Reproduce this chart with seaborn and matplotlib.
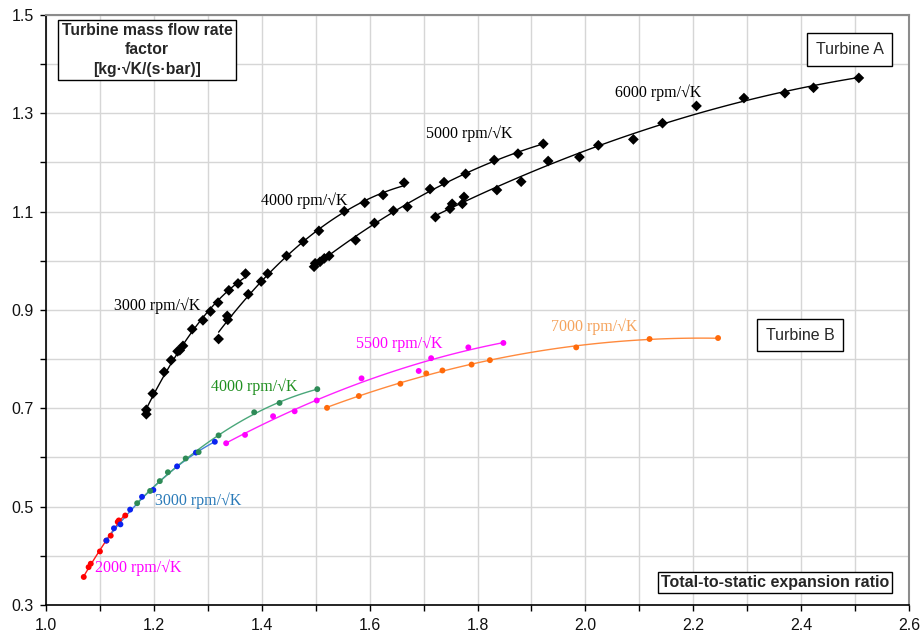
import numpy as np
import pandas as pd
import matplotlib
matplotlib.use("Agg")
import matplotlib.pyplot as plt
import seaborn as sns

# ---- Turbine A (black diamonds) : expansion ratio / mass flow factor ----
a3000_er = [1.186, 1.186, 1.198, 1.219, 1.232, 1.244, 1.248, 1.254, 1.271, 1.291, 1.305, 1.319, 1.339, 1.356, 1.370]
a3000_mf = [0.688, 0.697, 0.730, 0.774, 0.798, 0.816, 0.818, 0.827, 0.861, 0.879, 0.897, 0.915, 0.940, 0.954, 0.974]

a4000_er = [1.320, 1.336, 1.337, 1.375, 1.399, 1.411, 1.446, 1.477, 1.506, 1.553, 1.591, 1.625, 1.664]
a4000_mf = [0.841, 0.888, 0.880, 0.932, 0.958, 0.974, 1.010, 1.039, 1.061, 1.101, 1.118, 1.134, 1.159]

a5000_er = [1.497, 1.499, 1.508, 1.516, 1.525, 1.574, 1.609, 1.644, 1.670, 1.712, 1.738, 1.778, 1.831, 1.875, 1.922]
a5000_mf = [0.988, 0.995, 0.998, 1.005, 1.010, 1.042, 1.077, 1.102, 1.110, 1.146, 1.160, 1.177, 1.205, 1.218, 1.238]

a6000_er = [1.722, 1.749, 1.753, 1.772, 1.775, 1.836, 1.881, 1.931, 1.989, 2.024, 2.089, 2.143, 2.206, 2.294, 2.370, 2.423, 2.507]
a6000_mf = [1.089, 1.106, 1.116, 1.116, 1.130, 1.144, 1.161, 1.203, 1.211, 1.235, 1.247, 1.280, 1.315, 1.331, 1.341, 1.352, 1.372]

# ---- Turbine B (coloured dots) ----
b2000_er = [1.070, 1.079, 1.083, 1.100, 1.112, 1.120, 1.133, 1.135, 1.147]
b2000_mf = [0.357, 0.377, 0.384, 0.409, 0.431, 0.441, 0.469, 0.472, 0.482]

b3000_er = [1.112, 1.126, 1.138, 1.156, 1.178, 1.199, 1.243, 1.278, 1.313]
b3000_mf = [0.431, 0.456, 0.464, 0.494, 0.520, 0.534, 0.582, 0.610, 0.632]

b4000_er = [1.169, 1.193, 1.211, 1.226, 1.259, 1.283, 1.320, 1.386, 1.433, 1.503]
b4000_mf = [0.507, 0.532, 0.552, 0.570, 0.598, 0.611, 0.645, 0.692, 0.711, 0.739]

b5500_er = [1.334, 1.369, 1.421, 1.461, 1.502, 1.585, 1.691, 1.714, 1.783, 1.848]
b5500_mf = [0.629, 0.646, 0.684, 0.694, 0.716, 0.761, 0.776, 0.802, 0.824, 0.833]

b7000_er = [1.521, 1.580, 1.657, 1.705, 1.735, 1.789, 1.823, 1.983, 2.119, 2.246]
b7000_mf = [0.701, 0.725, 0.750, 0.771, 0.777, 0.789, 0.798, 0.824, 0.841, 0.843]

series_names = ["A 3000", "A 4000", "A 5000", "A 6000",
                "B 2000", "B 3000", "B 4000", "B 5500", "B 7000"]
series_er = [a3000_er, a4000_er, a5000_er, a6000_er,
             b2000_er, b3000_er, b4000_er, b5500_er, b7000_er]
series_mf = [a3000_mf, a4000_mf, a5000_mf, a6000_mf,
             b2000_mf, b3000_mf, b4000_mf, b5500_mf, b7000_mf]

point_colors = {"A 3000": "black", "A 4000": "black", "A 5000": "black", "A 6000": "black",
                "B 2000": "#ff0000", "B 3000": "#0a22f0", "B 4000": "#2e8b57",
                "B 5500": "#ff00ff", "B 7000": "#ff6a0a"}
line_colors = {"A 3000": "black", "A 4000": "black", "A 5000": "black", "A 6000": "black",
               "B 2000": "#ff1a1a", "B 3000": "#3f7fd8", "B 4000": "#4aa77a",
               "B 5500": "#ff22ff", "B 7000": "#ff8a3d"}

# speed-line labels: text, position, colour
label_texts = ["3000 rpm/\u221aK", "4000 rpm/\u221aK", "5000 rpm/\u221aK", "6000 rpm/\u221aK",
               "2000 rpm/\u221aK", "3000 rpm/\u221aK", "4000 rpm/\u221aK", "5500 rpm/\u221aK", "7000 rpm/\u221aK"]
label_x = [1.126, 1.398, 1.704, 2.054, 1.091, 1.202, 1.305, 1.574, 1.937]
label_y = [0.908, 1.122, 1.259, 1.343, 0.376, 0.512, 0.745, 0.831, 0.867]
label_colors = ["black", "black", "black", "black",
                "#ff00ff", "#2a7ab8", "#1f8f1f", "#ff00ff", "#f5a35c"]

x_ticks = [1.0, 1.2, 1.4, 1.6, 1.8, 2.0, 2.2, 2.4, 2.6]
y_ticks = [0.3, 0.5, 0.7, 0.9, 1.1, 1.3, 1.5]

# ---- tidy tables ----
rows = []
for name, er, mf in zip(series_names, series_er, series_mf):
    for e, m in zip(er, mf):
        rows.append({"series": name, "turbine": name[0], "er": e, "mf": m})
points = pd.DataFrame(rows)

# quadratic trend line through each speed line
curve_rows = []
for name, er, mf in zip(series_names, series_er, series_mf):
    coef = np.polyfit(er, mf, 2)
    xs = np.linspace(min(er), max(er), 80)
    for e, m in zip(xs, np.polyval(coef, xs)):
        curve_rows.append({"series": name, "er": e, "mf": m})
curves = pd.DataFrame(curve_rows)

sns.set_theme(style="whitegrid")
plt.rcParams["font.family"] = ["Liberation Sans", "DejaVu Sans"]

fig = plt.figure(figsize=(9.22, 6.36), dpi=100)
ax = fig.add_axes([46 / 922, (636 - 605) / 636, (909 - 46) / 922, (605 - 15) / 636])
ax.set_facecolor("white")

sns.lineplot(data=curves, x="er", y="mf", hue="series", palette=line_colors,
             estimator=None, sort=False, linewidth=1.0, legend=False, ax=ax, zorder=2)
sns.scatterplot(data=points[points.turbine == "A"], x="er", y="mf", hue="series",
                palette=point_colors, marker="D", s=30, edgecolor="none",
                legend=False, ax=ax, zorder=3)
sns.scatterplot(data=points[points.turbine == "B"], x="er", y="mf", hue="series",
                palette=point_colors, marker="o", s=18, edgecolor="none",
                legend=False, ax=ax, zorder=3)

ax.set_xlim(1.0, 2.6)
ax.set_ylim(0.3, 1.5)
ax.set_xticks(x_ticks)
ax.set_xticklabels([f"{v:.1f}" for v in x_ticks])
ax.set_xticks(np.arange(1.1, 2.6, 0.2), minor=True)
ax.set_yticks(y_ticks)
ax.set_yticklabels([f"{v:.1f}" for v in y_ticks])
ax.set_yticks(np.arange(0.4, 1.5, 0.2), minor=True)
ax.grid(which="both", color="#d6d6d6", linewidth=1.0)
ax.set_axisbelow(True)
ax.tick_params(which="both", direction="out", length=4, width=1, color="black",
               labelsize=11.5, labelcolor="#111111", bottom=True, left=True, pad=5)
ax.set_xlabel("")
ax.set_ylabel("")

for side in ("left", "bottom"):
    ax.spines[side].set_color("black")
    ax.spines[side].set_linewidth(1.2)
for side in ("top", "right"):
    ax.spines[side].set_color("#8c8c8c")
    ax.spines[side].set_linewidth(1.5)

for txt, lx, ly, c in zip(label_texts, label_x, label_y, label_colors):
    ax.text(lx, ly, txt, color=c, fontsize=11.5, family=["Liberation Serif", "DejaVu Serif"],
            ha="left", va="center", zorder=4)

ax.text(0.117, 0.9407, "Turbine mass flow rate\nfactor\n[kg\u00b7\u221aK/(s\u00b7bar)]",
        transform=ax.transAxes, ha="center", va="center", multialignment="center",
        fontsize=11.3, fontweight="bold", linespacing=1.3,
        bbox=dict(boxstyle="square,pad=0.22", facecolor="white", edgecolor="black",
                  linewidth=1.0), zorder=5)
ax.text(0.931, 0.9415, "Turbine A", transform=ax.transAxes, ha="center", va="center",
        fontsize=11.5, bbox=dict(boxstyle="square,pad=0.55", facecolor="white",
                                  edgecolor="black", linewidth=1.0), zorder=5)
ax.text(0.874, 0.4576, "Turbine B", transform=ax.transAxes, ha="center", va="center",
        fontsize=11.5, bbox=dict(boxstyle="square,pad=0.55", facecolor="white",
                                  edgecolor="black", linewidth=1.0), zorder=5)
ax.text(0.8447, 0.038, "Total-to-static expansion ratio", transform=ax.transAxes,
        ha="center", va="center", fontsize=11.5, fontweight="bold",
        bbox=dict(boxstyle="square,pad=0.2", facecolor="white", edgecolor="black",
                  linewidth=1.0), zorder=5)

fig.savefig("out.png", dpi=100)
